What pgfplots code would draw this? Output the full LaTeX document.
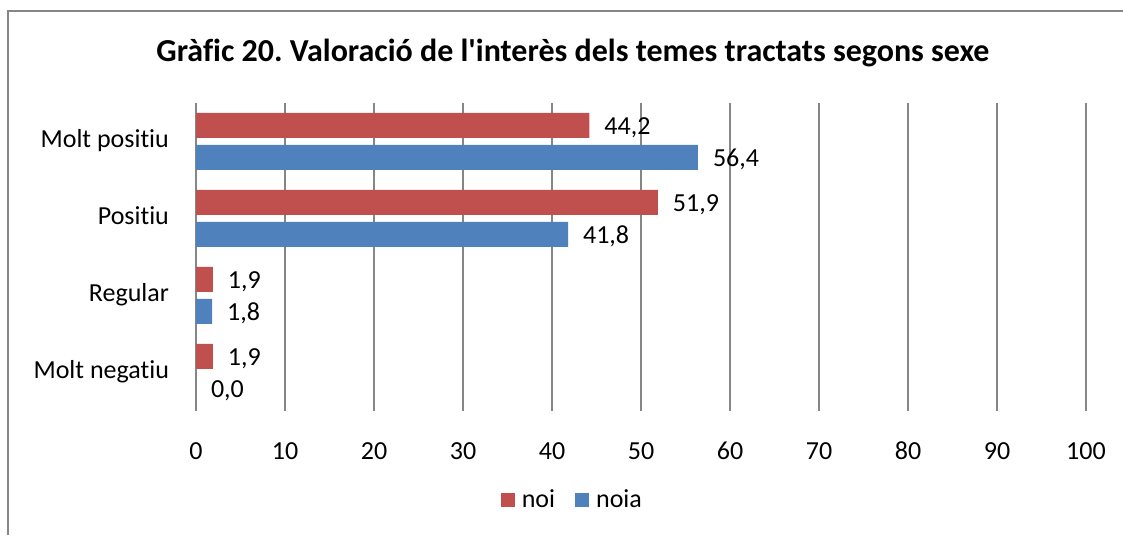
\documentclass[border=0pt]{standalone}
\usepackage{pgfplots}
\pgfplotsset{compat=1.18}
\usepackage{fontspec}
\setmainfont{Carlito}[Ligatures={TeXOff,NoCommon}]
\definecolor{noi}{RGB}{192,80,77}
\definecolor{noia}{RGB}{79,129,189}
\definecolor{gridgray}{RGB}{134,134,134}
\frenchspacing
\begin{document}
\begin{tikzpicture}
\path[use as bounding box] (0,0) rectangle (561.5pt,267.5pt);
\draw[gridgray, line width=1pt] (4pt,0) -- (4pt,262pt) -- (561.5pt,262pt);
\node[font=\fontsize{16}{18}\selectfont\bfseries] at (286.5pt,241pt) {Gràfic 20. Valoració de l'interès dels temes tractats segons sexe};
\begin{axis}[
  at={(98pt,62pt)}, anchor=south west,
  scale only axis, width=445pt, height=154pt,
  xbar, bar width=12.5pt,
  xmin=0, xmax=100, ymin=-0.5, ymax=3.5,
  xtick={0,10,...,100}, ytick={0,1,2,3},
  yticklabels={Molt negatiu\hspace{2.5pt}, Regular, Positiu, Molt positiu},
  axis line style={draw=none},
  major tick length=0pt,
  xmajorgrids, grid style={gridgray, line width=0.7pt},
  /pgf/number format/assume math mode=true,
  typeset ticklabels with strut,
  tick label style={font=\fontsize{13}{15.5}\selectfont},
  xticklabel style={yshift=-10pt},
  yticklabel style={xshift=-10pt},
  nodes near coords={\pgfmathprintnumber[fixed,fixed zerofill,precision=1,use comma,assume math mode=true]{\pgfplotspointmeta}},
  every node near coord/.append style={font=\fontsize{13}{15.5}\selectfont, black, xshift=4pt, yshift=-1pt},
  legend style={at={(0.424,-0.289)}, anchor=center, draw=none, legend columns=-1,
    font=\fontsize{13}{15.5}\selectfont,
    /tikz/every even column/.append style={column sep=8pt},
    /tikz/every odd column/.append style={column sep=1.5pt}},
  legend image code/.code={\fill[#1] (0pt,-3.5pt) rectangle (7pt,3.5pt);},
]
\addplot[fill=noi, draw=none, bar shift=8pt] coordinates {(1.9,0) (1.9,1) (51.9,2) (44.2,3)};
\addplot[fill=noia, draw=none, bar shift=-8pt] coordinates {(0,0) (1.8,1) (41.8,2) (56.4,3)};
\legend{noi, noia}
\end{axis}
\end{tikzpicture}
\end{document}
